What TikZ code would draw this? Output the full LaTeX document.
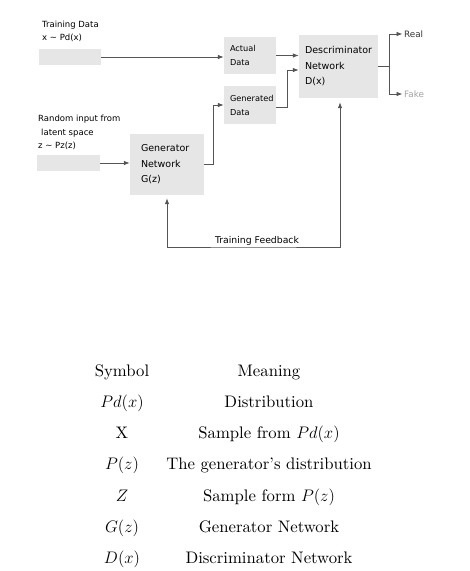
\RequirePackage{fix-cm}
\documentclass[tikz,border=0pt]{standalone}
\usepackage{fontspec}
\usepackage{tikz}
\usetikzlibrary{arrows.meta,positioning}

\newfontfamily\diagfont{DejaVu Sans}
\newfontfamily\tabfont[Ligatures=TeX]{lmroman10-regular.otf}
\definecolor{boxgray}{HTML}{E6E6E6}
\definecolor{linegray}{HTML}{555555}
\definecolor{fakegray}{HTML}{A0A0A0}

\tikzset{
  >={Latex[length=6pt,width=4.5pt]},
  inbox/.style={fill=boxgray, minimum width=62pt, minimum height=16pt, inner sep=0pt},
  netbox/.style={fill=boxgray, align=left, inner ysep=0pt, font=\diagfont\fontsize{9.5}{15.5}\selectfont},
  databox/.style={fill=boxgray, align=left, inner ysep=0pt, inner xsep=6pt, text width=40pt,
    minimum height=37pt, font=\diagfont\fontsize{8.2}{14}\selectfont},
  lbl/.style={align=left, inner sep=0pt, font=\diagfont\fontsize{8.5}{13.5}\selectfont},
  outlbl/.style={anchor=west, inner sep=1.5pt, font=\diagfont\fontsize{8.8}{10}\selectfont},
  link/.style={draw=linegray, line width=0.8pt},
  tab/.style={anchor=base, inner sep=0pt, font=\tabfont\fontsize{16.7}{19}\selectfont},
}

\begin{document}
\begin{tikzpicture}[x=1pt,y=-1pt]
    \useasboundingbox (0,0) rectangle (470,571);

    % Input labels
    \node[lbl, anchor=west] (reallbl) at (42,31.5) {Training Data\\x \textasciitilde{} Pd(x)};
    \node[lbl, anchor=west] (noiselbl) at (38,132.5) {Random input from\\\hspace{3pt}latent space\\z \textasciitilde{} Pz(z)};

    % Input boxes
    \node[inbox] (realin) at (70,57) {};
    \node[inbox, minimum width=63pt] (noisein) at (68.5,163) {};

    % Network boxes
    \node[netbox, inner xsep=11pt, text width=52pt, minimum height=61pt] (gen) at (167,164.5) {Generator\\Network\\G(z)};
    \node[netbox, inner xsep=6pt, text width=67pt, minimum height=63pt] (disc) at (338.5,66.5) {Descriminator\\Network\\D(x)};

    % Data boxes
    \node[databox] (actual) at (250,55.5) {Actual\\Data};
    \node[databox, minimum height=38pt] (generated) at (250,105) {Generated\\Data};

    % Outputs
    \node[outlbl, text=black!80] (real) at (402.5,34) {Real};
    \node[outlbl, text=fakegray] (fake) at (402.5,94) {Fake};

    % Connectors
    \draw[link, ->] (realin.east) -- (realin.east -| actual.west);
    \draw[link, ->] (noisein.east) -- (noisein.east -| gen.west);
    \draw[link, ->] (gen.east) -- ++(9,0) |- (generated.west);
    \draw[link, ->] (actual.east) -- (actual.east -| disc.west);
    \draw[link, ->] ([yshift=-2pt]generated.east) -- ++(11,0) |- ([yshift=-3.5pt]disc.west);
    \draw[link] (disc.east) -- ++(11,0) coordinate (split);
    \draw[link, ->] (split) |- (real.west);
    \draw[link, ->] (split) |- (fake.west);

    % Training feedback
    \coordinate (fb) at (253,247);
    \draw[link, <->] ([yshift=-3pt]gen.south) |- (fb) -| ([xshift=1.5pt,yshift=-4pt]disc.south);
    \node[lbl, font=\diagfont\fontsize{9.3}{11}\selectfont] (fblbl) at (257,241) {Training Feedback};

    % Symbol table
    \node[tab] (symhead) at (122,376) {Symbol};
    \node[tab] (meanhead) at (269,376) {Meaning};
    \node[tab] (sympd) at (122,407.3) {$Pd(x)$};
    \node[tab] (meanpd) at (269,407.3) {Distribution};
    \node[tab] (symx) at (122,438.6) {X};
    \node[tab] (meanx) at (269,438.6) {Sample from $Pd(x)$};
    \node[tab] (sympz) at (122,469.9) {$P(z)$};
    \node[tab] (meanpz) at (269,469.9) {The generator's distribution};
    \node[tab] (symz) at (122,501.2) {$Z$};
    \node[tab] (meanz) at (269,501.2) {Sample form $P(z)$};
    \node[tab] (symg) at (122,532.5) {$G(z)$};
    \node[tab] (meang) at (269,532.5) {Generator Network};
    \node[tab] (symd) at (122,563.8) {$D(x)$};
    \node[tab] (meand) at (269,563.8) {Discriminator Network};

\end{tikzpicture}
\end{document}
